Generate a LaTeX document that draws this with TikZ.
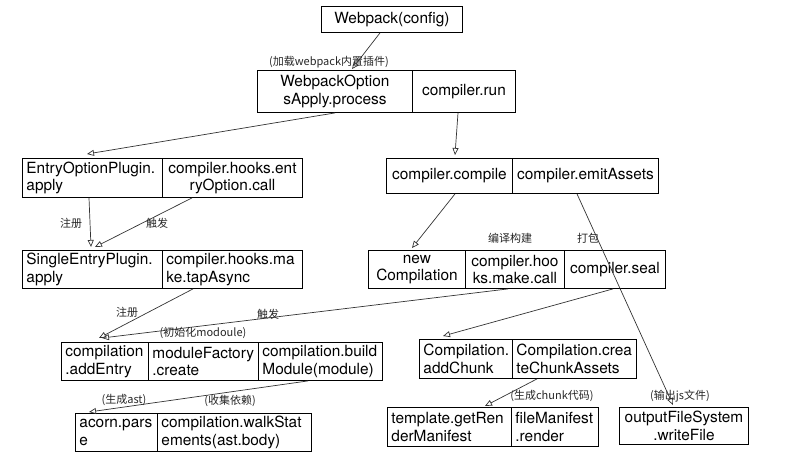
\documentclass[tikz,border=0pt]{standalone}
\usepackage{fontspec}
\setmainfont{TeX Gyre Heros}
\newfontfamily\cjk{Noto Sans CJK SC}
\usetikzlibrary{arrows.meta,calc}
\tikzset{
  cell/.style={draw=black, line width=0.9pt, inner xsep=4pt, inner ysep=0pt,
    font=\fontsize{15.4pt}{17.5pt}\selectfont, anchor=north west},
  lbl/.style={font=\cjk\fontsize{11pt}{12pt}\selectfont, text=black!85, inner sep=0pt},
  arr/.style={draw=black!80, line width=0.7pt, -{Triangle[open,length=7pt,width=6pt]}},
}
\newcommand{\mkcell}[8]{%
  % #1 name, #2 x1, #3 y1, #4 width, #5 height, #6 text width, #7 align, #8 text
  \node[cell, minimum width=#4pt, minimum height=#5pt, text width=#6pt, align=#7] (#1) at (#2,#3) {#8};}
\begin{document}
\begin{tikzpicture}[x=1pt,y=-1pt]
\useasboundingbox (0,0) rectangle (800,467);
% row 0
\mkcell{webpack}{321}{6}{141}{26}{133}{center}{Webpack(config)}
% row 1
\mkcell{woa}{257}{70}{155}{42}{147}{center}{WebpackOption\\sApply.process}
\mkcell{run}{412}{70}{103}{42}{95}{center}{compiler.run}
% row 2
\mkcell{eop}{22}{158}{140}{39}{132}{left}{EntryOptionPlugin.\\apply}
\mkcell{eoc}{162}{158}{140}{39}{132}{center}{compiler.hooks.ent\\ryOption.call}
\mkcell{compile}{386}{158}{126}{35}{118}{center}{compiler.compile}
\mkcell{emit}{512}{158}{146}{35}{138}{center}{compiler.emitAssets}
% row 3
\mkcell{sep}{22}{250}{140}{38}{132}{left}{SingleEntryPlugin.\\apply}
\mkcell{mta}{162}{250}{140}{38}{132}{left}{compiler.hooks.ma\\ke.tapAsync}
\mkcell{newc}{368}{250}{97}{38}{89}{center}{new\\Compilation}
\mkcell{mcall}{465}{250}{99}{38}{91}{center}{compiler.hoo\\ks.make.call}
\mkcell{seal}{564}{250}{101}{38}{93}{center}{compiler.seal}
% row 4
\mkcell{addEntry}{61}{342}{87}{38}{79}{left}{compilation\\.addEntry}
\mkcell{mfc}{148}{342}{110}{38}{102}{left}{moduleFactory\\.create}
\mkcell{build}{258}{342}{124}{38}{116}{left}{compilation.build\\Module(module)}
\mkcell{addChunk}{419}{339}{93}{39}{85}{left}{Compilation.\\addChunk}
\mkcell{cca}{512}{339}{124}{39}{116}{left}{Compilation.crea\\teChunkAssets}
% row 5
\mkcell{acorn}{75}{413}{82}{38}{74}{left}{acorn.pars\\e}
\mkcell{walk}{157}{413}{154}{38}{146}{left}{compilation.walkStat\\ements(ast.body)}
\mkcell{tgr}{387}{407}{124}{39}{116}{left}{template.getRen\\derManifest}
\mkcell{fmr}{511}{407}{87}{39}{79}{left}{fileManifest\\.render}
\mkcell{ofs}{619}{407}{129}{37}{121}{center}{outputFileSystem\\.writeFile}
% connectors
\draw[arr] ([xshift=59pt]webpack.south west) -- ([shift={(95pt,1pt)}]woa.north west);
\draw[arr] ([xshift=78pt]woa.south west) -- ([shift={(65pt,4pt)}]eop.north west);
\draw[arr] ([xshift=46pt]run.south west) -- ([shift={(69pt,3pt)}]compile.north west);
\draw[arr] ([xshift=67pt]eop.south west) -- ([shift={(69pt,3pt)}]sep.north west);
\draw[arr] ([xshift=30pt]eoc.south west) -- ([shift={(73pt,3pt)}]sep.north west);
\draw[arr] ([xshift=69pt]compile.south west) -- ([shift={(44pt,2pt)}]newc.north west);
\draw[arr] ([xshift=65pt]emit.south west) -- ([shift={(54pt,2pt)}]ofs.north west);
\draw[arr] ([xshift=31pt]mta.south west) -- ([shift={(38pt,4pt)}]addEntry.north west);
\draw[arr] ([xshift=43pt]mcall.south west) -- ([shift={(41pt,4pt)}]addEntry.north west);
\draw[arr] ([xshift=50pt]build.south west) -- ([shift={(14pt,1pt)}]acorn.north west);
\draw[arr] ([xshift=49pt]seal.south west) -- ([shift={(24pt,3pt)}]addChunk.north west);
\draw[arr] ([xshift=25pt]cca.south west) -- ([shift={(98pt,1pt)}]tgr.north west);
% labels
\node[lbl] (l1) at (329,62) {(加载webpack内置插件)};
\node[lbl] (l2) at (71,223) {注册};
\node[lbl] (l3) at (157,223) {触发};
\node[lbl] (l4) at (510,238) {编译构建};
\node[lbl] (l5) at (588,238) {打包};
\node[lbl] (l6) at (127,312) {注册};
\node[lbl] (l7) at (268,314) {触发};
\node[lbl] (l8) at (203,333) {(初始化modoule)};
\node[lbl] (l9) at (124,400) {(生成ast)};
\node[lbl] (l10) at (230,401) {(收集依赖)};
\node[lbl] (l11) at (552,396) {(生成chunk代码)};
\node[lbl] (l12) at (680,396) {(输出js文件)};
\end{tikzpicture}
\end{document}
